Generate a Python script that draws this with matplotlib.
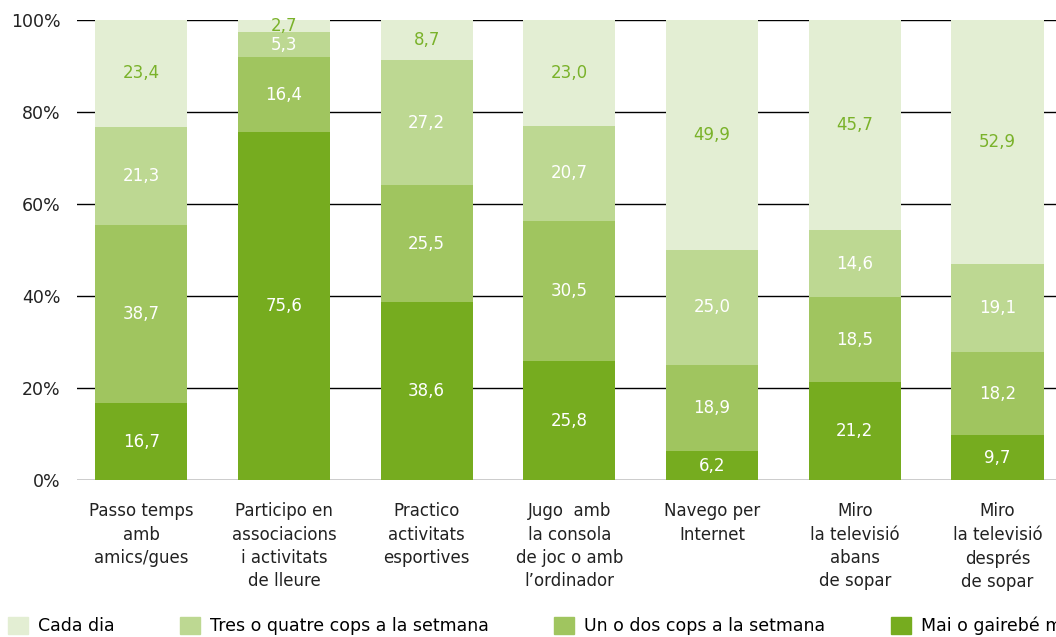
import numpy as np
import matplotlib.pyplot as plt
from matplotlib.patches import Patch

# Categories (x axis labels)
categories = ["Passo temps\namb\namics/gues",
              "Participo en\nassociacions\ni activitats\nde lleure",
              "Practico\nactivitats\nesportives",
              "Jugo  amb\nla consola\nde joc o amb\nl\u2019ordinador",
              "Navego per\nInternet",
              "Miro\nla televisi\u00f3\nabans\nde sopar",
              "Miro\nla televisi\u00f3\ndespr\u00e9s\nde sopar"]

# Series (bottom to top)
mai = [16.7, 75.6, 38.6, 25.8, 6.2, 21.2, 9.7]
un_dos = [38.7, 16.4, 25.5, 30.5, 18.9, 18.5, 18.2]
tres_quatre = [21.3, 5.3, 27.2, 20.7, 25.0, 14.6, 19.1]
cada_dia = [23.4, 2.7, 8.7, 23.0, 49.9, 45.7, 52.9]

series = [mai, un_dos, tres_quatre, cada_dia]
noms = ["Mai o gairebé mai", "Un o dos cops a la setmana",
        "Tres o quatre cops a la setmana", "Cada dia"]
colors = ["#76ac1f", "#a0c55f", "#bdd892", "#e3eed3"]
text_colors = ["white", "white", "white", "#7ab22a"]

fig = plt.figure(figsize=(10.56, 6.37), dpi=100)
ax = fig.add_axes([77/1056, 157/637, 1 - 77/1056, 460/637])

x = np.arange(len(categories))
bottom = np.zeros(len(categories))
for vals, col, tcol in zip(series, colors, text_colors):
    vals = np.array(vals)
    ax.bar(x, vals, width=0.645, bottom=bottom, color=col, zorder=2)
    for xi, b, v in zip(x, bottom, vals):
        ax.text(xi, b + v / 2, f"{v:.1f}".replace(".", ","), ha="center",
                va="center", color=tcol, fontsize=12, zorder=3)
    bottom += vals

# linies de la graella
for yv in range(0, 101, 20):
    ax.axhline(yv, color="black", lw=1.0, zorder=1)

ax.set_xlim(-0.45, 6.41)
ax.set_ylim(0, 100)
ax.set_yticks(range(0, 101, 20))
ax.set_yticklabels([f"{v}%" for v in range(0, 101, 20)], fontsize=12.5, color="#222222")
ax.set_xticks(x)
ax.set_xticklabels(categories, fontsize=12, color="#222222", linespacing=1.38, va="top")
ax.tick_params(axis="y", length=0, pad=12)
ax.tick_params(axis="x", length=0, pad=16)
for s in ax.spines.values():
    s.set_visible(False)

# Llegenda
handles = [Patch(color=colors[i], label=noms[i]) for i in [3, 2, 1, 0]]
fig.legend(handles=handles, loc="center left", bbox_to_anchor=(8/1056, 11/637),
           ncol=4, frameon=False, fontsize=12.5, handlelength=1.15, handleheight=1.15,
           handletextpad=0.55, columnspacing=3.8, borderaxespad=0, borderpad=0)

plt.savefig("out.png", dpi=100)
